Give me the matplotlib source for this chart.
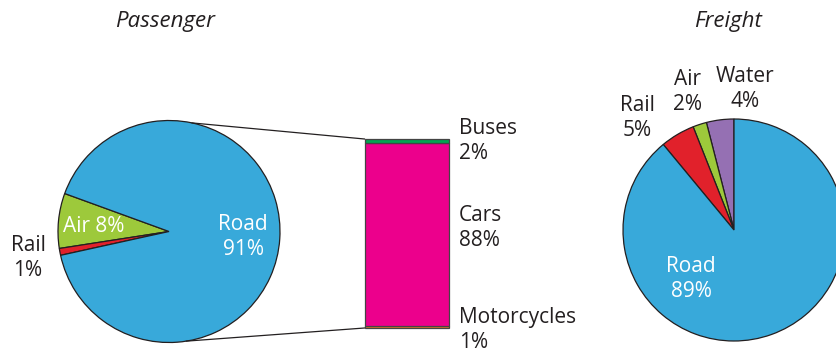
import matplotlib.pyplot as plt
import numpy as np

# Modal split shares (%)
pass_labels = ['Air', 'Rail', 'Road']
pass_values = [8, 1, 91]
road_labels = ['Motorcycles', 'Cars', 'Buses']
road_values = [1, 88, 2]
freight_labels = ['Water', 'Air', 'Rail', 'Road']
freight_values = [4, 2, 5, 89]

BLUE = '#38a9da'
LIME = '#9dc93b'
RED = '#e1212b'
MAGENTA = '#ec008c'
GREEN = '#00a651'
ORANGE = '#f47a20'
PURPLE = '#9570b3'
EDGE = '#231f20'
TXT = '#231f20'

plt.rcParams['font.family'] = ['Open Sans', 'DejaVu Sans']
plt.rcParams['font.weight'] = 'medium'

W, H = 836, 353
fig = plt.figure(figsize=(W / 100, H / 100), dpi=100)
ax = fig.add_axes([0, 0, 1, 1])

def Y(y):
    # top-down pixel row -> axis y
    return H - y

# Passenger pie
pc = (169, Y(231.5))
pr = 111
ax.pie(pass_values, colors=[LIME, RED, BLUE], startangle=160, counterclock=True,
       center=pc, radius=pr, frame=True,
       wedgeprops=dict(edgecolor=EDGE, linewidth=0.9))

# Road breakdown as a stacked bar
bar_x, bar_w = 406.5, 84
bar_bottom, bar_top = Y(328), Y(139)
scale = (bar_top - bar_bottom) / sum(road_values)
bottom = bar_bottom
seg_colors = [ORANGE, MAGENTA, GREEN]
for v, c in zip(road_values, seg_colors):
    ax.bar(bar_x, v * scale, width=bar_w, bottom=bottom, color=c,
           edgecolor='#444444', linewidth=0.9, zorder=3)
    bottom += v * scale

# connector lines from pie to bar
a1, a2 = np.radians(78), np.radians(-81)
ax.plot([pc[0] + pr * np.cos(a1), bar_x - bar_w / 2],
        [pc[1] + pr * np.sin(a1), bar_top], color=EDGE, lw=0.9, zorder=1)
ax.plot([pc[0] + pr * np.cos(a2), bar_x - bar_w / 2],
        [pc[1] + pr * np.sin(a2), bar_bottom], color=EDGE, lw=0.9, zorder=1)

# Freight pie
fc = (734, Y(230))
ax.pie(freight_values, colors=[PURPLE, LIME, RED, BLUE], startangle=90,
       counterclock=True, center=fc, radius=111, frame=True,
       wedgeprops=dict(edgecolor=EDGE, linewidth=0.9))

ax.set_xlim(0, W)
ax.set_ylim(0, H)
ax.set_aspect('equal')
ax.axis('off')

fs = 15
ls = 1.2
# passenger labels
ax.text(94, Y(227), f'{pass_labels[0]} {pass_values[0]}%', color='white',
        fontsize=fs, ha='center', va='center')
ax.text(243, Y(237), f'{pass_labels[2]}\n{pass_values[2]}%', color='white',
        fontsize=fs, ha='center', va='center', linespacing=ls)
ax.text(28, Y(258), f'{pass_labels[1]}\n{pass_values[1]}%', color=TXT,
        fontsize=fs, ha='center', va='center', linespacing=ls)

# bar labels
ax.text(459, Y(141), f'{road_labels[2]}\n{road_values[2]}%', color=TXT,
        fontsize=fs, ha='left', va='center', linespacing=ls)
ax.text(459, Y(228), f'{road_labels[1]}\n{road_values[1]}%', color=TXT,
        fontsize=fs, ha='left', va='center', linespacing=ls)
ax.text(459, Y(330), f'{road_labels[0]}\n{road_values[0]}%', color=TXT,
        fontsize=fs, ha='left', va='center', linespacing=ls)

# freight labels
ax.text(637, Y(118), f'{freight_labels[2]}\n{freight_values[2]}%', color=TXT,
        fontsize=fs, ha='center', va='center', linespacing=ls)
ax.text(688, Y(92), f'{freight_labels[1]}\n{freight_values[1]}%', color=TXT,
        fontsize=fs, ha='center', va='center', linespacing=ls)
ax.text(745, Y(89), f'{freight_labels[0]}\n{freight_values[0]}%', color=TXT,
        fontsize=fs, ha='center', va='center', linespacing=ls)
ax.text(691, Y(279), f'{freight_labels[3]}\n{freight_values[3]}%', color='white',
        fontsize=fs, ha='center', va='center', linespacing=ls)

# titles
ax.text(165, Y(22), 'Passenger', fontsize=16, style='italic', color=TXT,
        ha='center', va='center')
ax.text(728, Y(22), 'Freight', fontsize=16, style='italic', color=TXT,
        ha='center', va='center')

fig.savefig('out.png', dpi=100)
